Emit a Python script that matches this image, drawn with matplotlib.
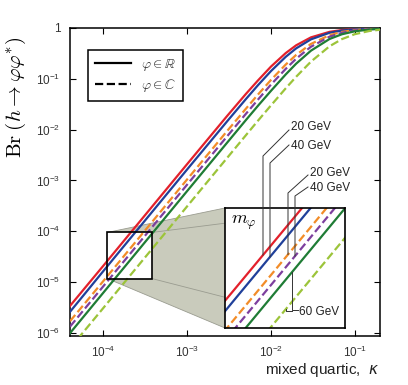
import numpy as np
import matplotlib.pyplot as plt
from matplotlib.lines import Line2D
from matplotlib.patches import Polygon, Rectangle

plt.rcParams['font.family'] = ['Liberation Sans', 'DejaVu Sans']

# mixed quartic coupling and branching ratios
kappa = [4e-5, 1e-4, 1e-3, 3e-3, 5e-3, 7e-3, 1e-2, 1.5e-2, 2e-2, 3e-2, 5e-2, 7e-2, 0.1, 0.15, 0.2]
br_20_real = [3.4e-6, 2.1e-5, 2.1e-3, 1.86e-2, 5.0e-2, 9.3e-2, 0.174, 0.321, 0.457, 0.654, 0.840, 0.911, 0.955, 0.979, 0.988]
br_40_real = [2.6e-6, 1.65e-5, 1.65e-3, 1.46e-2, 3.96e-2, 7.5e-2, 0.142, 0.271, 0.398, 0.598, 0.805, 0.890, 0.943, 0.974, 0.985]
br_20_cplx = [1.7e-6, 1.05e-5, 1.05e-3, 9.4e-3, 2.56e-2, 4.9e-2, 0.095, 0.191, 0.296, 0.486, 0.724, 0.837, 0.913, 0.959, 0.977]
br_40_cplx = [1.33e-6, 8.3e-6, 8.3e-4, 7.4e-3, 2.03e-2, 3.9e-2, 0.077, 0.157, 0.249, 0.428, 0.675, 0.803, 0.893, 0.949, 0.971]
br_60_real = [9.9e-7, 6.2e-6, 6.2e-4, 5.55e-3, 1.53e-2, 2.95e-2, 0.058, 0.122, 0.199, 0.358, 0.608, 0.752, 0.861, 0.933, 0.961]
br_60_cplx = [5.0e-7, 3.1e-6, 3.1e-4, 2.78e-3, 7.7e-3, 1.5e-2, 0.030, 0.065, 0.110, 0.218, 0.437, 0.603, 0.756, 0.875, 0.925]

xticks = [1e-4, 1e-3, 1e-2, 1e-1]
xtick_labels = [r'$\mathdefault{10^{-4}}$', r'$\mathdefault{10^{-3}}$',
                r'$\mathdefault{10^{-2}}$', r'$\mathdefault{10^{-1}}$']
yticks = [1e-6, 1e-5, 1e-4, 1e-3, 1e-2, 1e-1, 1]
ytick_labels = [r'$\mathdefault{10^{-6}}$', r'$\mathdefault{10^{-5}}$', r'$\mathdefault{10^{-4}}$',
                r'$\mathdefault{10^{-3}}$', r'$\mathdefault{10^{-2}}$', r'$\mathdefault{10^{-1}}$', '1']
legend_labels = [r'$\varphi \in \mathbb{R}$', r'$\varphi \in \mathbb{C}$']

W, H = 408, 385
fig = plt.figure(figsize=(W / 100, H / 100), dpi=100)


def fig_frac(x, y):
    # pixel position (origin top-left) -> figure fraction
    return x / W, 1 - y / H


curves = [
    (br_20_real, '#e3202b', '-'),
    (br_40_real, '#20409a', '-'),
    (br_20_cplx, '#f28c28', '--'),
    (br_40_cplx, '#7d3f9e', '--'),
    (br_60_real, '#1f7c35', '-'),
    (br_60_cplx, '#9cc43a', '--'),
]

ax = fig.add_axes([70 / W, 1 - 336 / H, 310 / W, 308 / H])
for br, c, ls in curves:
    ax.plot(kappa, br, color=c, ls=ls, lw=1.6, zorder=3)
ax.set_xscale('log')
ax.set_yscale('log')
ax.set_xlim(4e-5, 0.2)
ax.set_ylim(8.7e-7, 1)
ax.set_xticks(xticks, xtick_labels)
ax.set_yticks(yticks, ytick_labels)
ax.minorticks_off()
ax.tick_params(direction='in', top=True, right=True, length=4, width=0.8,
               labelsize=8.5, labelcolor='#333333')
ax.tick_params(axis='y', pad=7)
ax.tick_params(axis='x', pad=6)
for s in ax.spines.values():
    s.set_linewidth(1.1)

# zoom box
bx0, bx1, by0, by1 = 1.12e-4, 3.83e-4, 1.17e-5, 9.5e-5
ax.add_patch(Rectangle((bx0, by0), bx1 - bx0, by1 - by0, fill=False,
                       lw=1.2, ec='k', zorder=5))

# inset
ins_px = (225, 208, 345, 328)
ins = fig.add_axes([ins_px[0] / W, 1 - ins_px[3] / H,
                    (ins_px[2] - ins_px[0]) / W, (ins_px[3] - ins_px[1]) / H])
for br, c, ls in curves:
    ins.plot(kappa, br, color=c, ls=ls, lw=1.6)
ins.set_xscale('log')
ins.set_yscale('log')
ins.set_xlim(8.85e-5, 4.82e-4)
ins.set_ylim(8.7e-6, 1.45e-4)
ins.set_xticks([])
ins.set_yticks([])
ins.minorticks_off()
for s in ins.spines.values():
    s.set_linewidth(1.2)
ins.text(0.05, 0.95, r'$m_\varphi$', transform=ins.transAxes, fontsize=13,
         math_fontfamily='cm', va='top', ha='left')

# connector region between box and inset
to_fig = fig.transFigure.inverted()
b_tl, b_tr, b_br, b_bl = to_fig.transform(ax.transData.transform(
    [(bx0, by1), (bx1, by1), (bx1, by0), (bx0, by0)]))
i_tl = fig_frac(ins_px[0], ins_px[1])
i_tr = fig_frac(ins_px[2], ins_px[1])
i_br = fig_frac(ins_px[2], ins_px[3])
i_bl = fig_frac(ins_px[0], ins_px[3])
ax.add_patch(Polygon([b_tl, i_tl, i_bl, b_bl, b_br, b_tr], closed=True,
                     transform=fig.transFigure, fc='#c9cbbc', ec='none', zorder=1))
for p, q in [(b_tl, i_tl), (b_tr, i_tr), (b_br, i_br), (b_bl, i_bl)]:
    ax.add_line(Line2D([p[0], q[0]], [p[1], q[1]], transform=fig.transFigure,
                       color='#9a9c90', lw=0.6, zorder=1.5))


def curve_point(br, x_px):
    # point on a curve inside the inset at a given pixel column
    xd = ins.transData.inverted().transform((x_px, 0))[0]
    yd = 10 ** np.interp(np.log10(xd), np.log10(kappa), np.log10(br))
    y_disp = ins.transData.transform((xd, yd))[1]
    return x_px, H - y_disp


def pointer(pts):
    xs, ys = zip(*[fig_frac(x, y) for x, y in pts])
    fig.add_artist(Line2D(xs, ys, color='#333333', lw=0.7))


label_kw = dict(fontsize=8.5, va='center', ha='left', color='#222222')
for br, xv, knee, end, txt, tpos in [
    (br_20_real, 263, 156, (289, 130), '20 GeV', (291, 127)),
    (br_40_real, 270, 163, (289, 145), '40 GeV', (291, 146)),
    (br_20_cplx, 288, 193, (308, 175), '20 GeV', (310, 173)),
    (br_40_cplx, 295, 196, (308, 187), '40 GeV', (310, 188)),
]:
    p = curve_point(br, xv)
    pointer([p, (xv, knee), end])
    fig.text(*fig_frac(*tpos), txt, **label_kw)

pg = curve_point(br_60_real, 292)
pointer([pg, (292, 310), (298, 310)])
py = curve_point(br_60_cplx, 286)
pointer([py, (286, 311), (292, 311)])
fig.text(*fig_frac(299, 312), '60 GeV', **label_kw)

# legend
handles = [Line2D([], [], color='k', lw=1.6),
           Line2D([], [], color='k', lw=1.6, ls='--')]
leg = ax.legend(handles, legend_labels, loc='upper left',
                bbox_to_anchor=(18 / 310, 1 - 22 / 308), borderaxespad=0,
                fancybox=False, edgecolor='k', framealpha=1, fontsize=10,
                handlelength=2.6, borderpad=0.5, labelspacing=0.3,
                handletextpad=0.75)
leg.get_frame().set_linewidth(1.1)
leg.set_zorder(6)
for t in leg.get_texts():
    t.set_math_fontfamily('cm')
    t.set_color('#333333')

fig.text(*fig_frac(379, 370), r'mixed quartic,  $\kappa$', ha='right',
         va='center', fontsize=11, color='#222222')
fig.text(*fig_frac(16, 97), r'$\mathrm{Br}\;(h \rightarrow \varphi\varphi^{*})$',
         rotation=90, ha='center', va='center', fontsize=15, math_fontfamily='cm')

fig.savefig('out.png', dpi=100)
